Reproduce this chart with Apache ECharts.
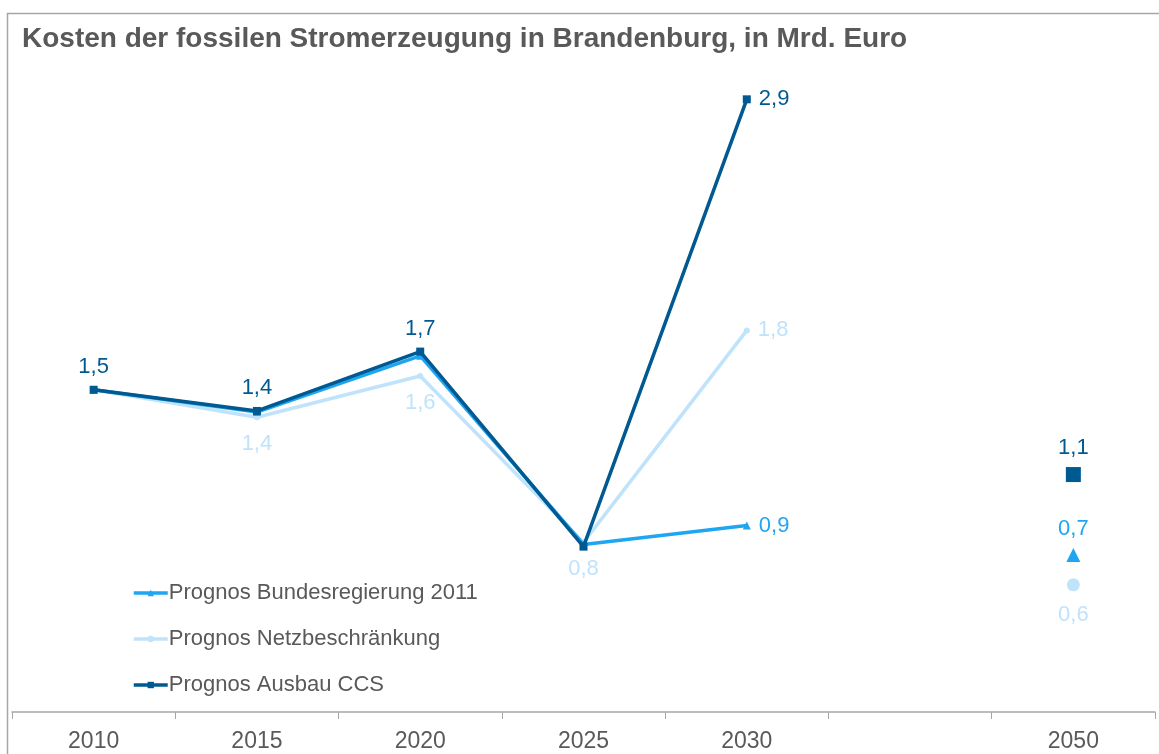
<!DOCTYPE html>
<html>
<head>
<meta charset="utf-8">
<script src="https://cdn.jsdelivr.net/npm/echarts@6/dist/echarts.min.js"></script>
<style>
  html, body { margin: 0; padding: 0; background: #fff; }
  #chart { width: 1159px; height: 754px; }
</style>
</head>
<body>
<div id="chart"></div>
<script>
// categories (the empty slot stands for the gap before 2050)
const years = ['2010', '2015', '2020', '2025', '2030', '', '2050'];

// values in Mrd. Euro
const bundesregierung = [1.52, 1.415, 1.68, 0.79, 0.88, null, 0.74];
const netzbeschraenkung = [1.52, 1.39, 1.585, 0.80, 1.80, null, 0.60];
const ausbauCCS = [1.52, 1.42, 1.70, 0.78, 2.89, null, 1.12];

const fmt = v => v.toFixed(1).replace('.', ',');
const font = 'Liberation Sans, Arial, sans-serif';

// build data items; labelPos says where (if at all) a value is shown
function build(values, labelPos, bigSize) {
  return values.map((v, i) => {
    if (v == null) return null;
    const item = { value: v };
    if (i === 6) item.symbolSize = bigSize;
    if (labelPos[i]) {
      item.label = { show: true, position: labelPos[i] };
      // labels below the light line sit a bit further away
      if (labelPos[i] === 'bottom') item.label.distance = 13;
    } else {
      item.label = { show: false };
    }
    return item;
  });
}

function series(name, values, color, symbol, size, bigSize, labelPos, z) {
  return {
    name: name,
    type: 'line',
    z: z,
    data: build(values, labelPos, bigSize),
    symbol: symbol,
    symbolSize: size,
    showAllSymbol: true,
    connectNulls: false,
    lineStyle: { color: color, width: 3.5 },
    itemStyle: { color: color },
    label: {
      color: color,
      fontSize: 22,
      fontFamily: font,
      distance: 8,
      formatter: p => fmt(p.value)
    },
    emphasis: { disabled: true },
    animation: false
  };
}

const chart = echarts.init(document.getElementById('chart'));
chart.setOption({
  title: {
    text: 'Kosten der fossilen Stromerzeugung in Brandenburg, in Mrd. Euro',
    left: 17,
    top: 20,
    textStyle: { color: '#595959', fontSize: 28, fontWeight: 'bold', fontFamily: font }
  },
  graphic: [{
    type: 'rect',
    left: 5,
    top: 11,
    shape: { width: 1200, height: 800 },
    style: { fill: 'none', stroke: '#a6a6a6', lineWidth: 1.5 },
    silent: true
  }],
  legend: {
    orient: 'vertical',
    left: 127,
    top: 577,
    itemWidth: 34,
    itemHeight: 8,
    itemGap: 24,
    lineStyle: { width: 3.5 },
    textStyle: { color: '#595959', fontSize: 22, fontFamily: font, padding: [0, 0, 0, -4] },
    data: ['Prognos Bundesregierung 2011', 'Prognos Netzbeschränkung', 'Prognos Ausbau CCS']
  },
  grid: { left: 12, right: 4, top: 76, bottom: 42 },
  xAxis: {
    type: 'category',
    data: years,
    boundaryGap: true,
    axisLine: { lineStyle: { color: '#a6a6a6', width: 1.5 } },
    axisTick: { show: true, length: 7, lineStyle: { color: '#a6a6a6' } },
    axisLabel: { color: '#595959', fontSize: 23, fontFamily: font, margin: 18 }
  },
  yAxis: {
    type: 'value',
    min: 0,
    max: 3,
    show: false
  },
  series: [
    series('Prognos Bundesregierung 2011', bundesregierung, '#1fa6f2', 'triangle', 8, 14,
      [null, null, null, null, 'right', null, 'top'], 3),
    series('Prognos Netzbeschränkung', netzbeschraenkung, '#bfe3fb', 'circle', 6, 13,
      [null, 'bottom', 'bottom', 'bottom', 'right', null, 'bottom'], 2),
    series('Prognos Ausbau CCS', ausbauCCS, '#005a91', 'rect', 8, 15,
      ['top', 'top', 'top', null, 'right', null, 'top'], 4)
  ]
});
</script>
</body>
</html>
